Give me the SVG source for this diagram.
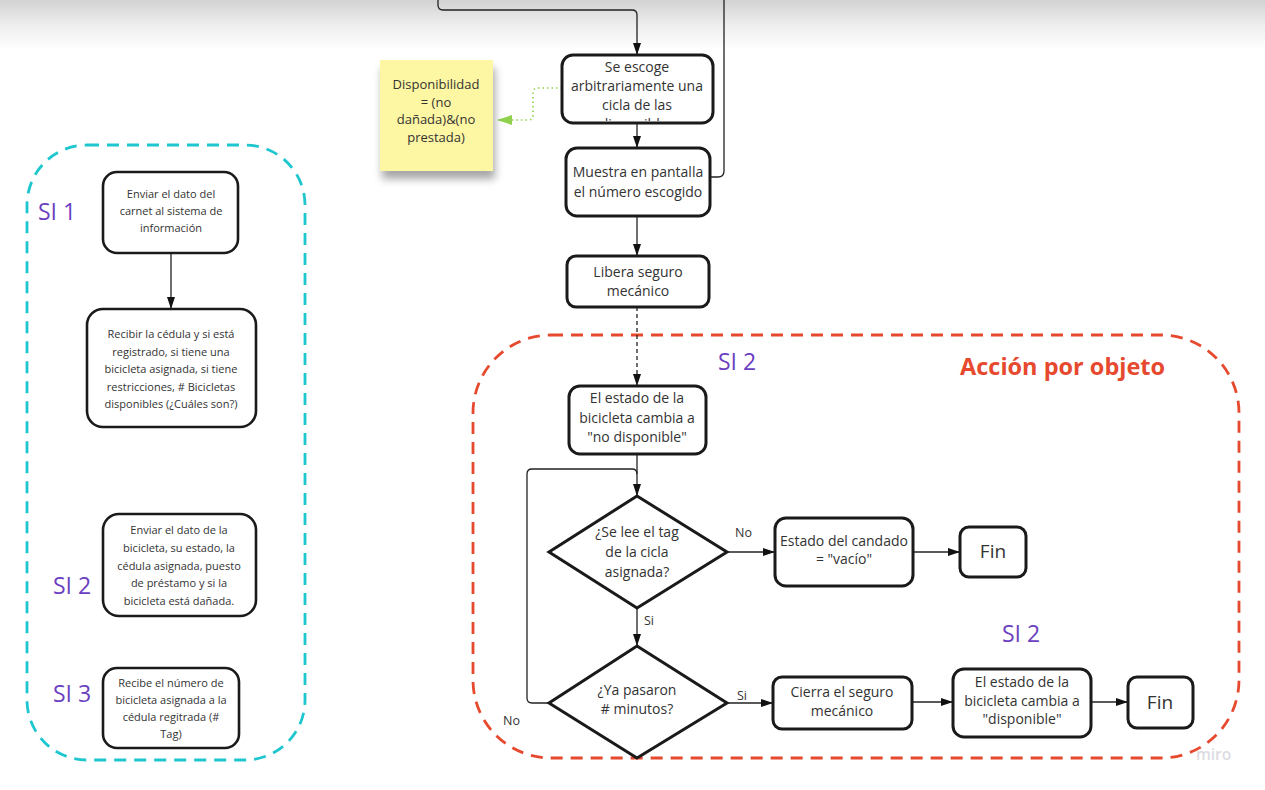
<svg xmlns="http://www.w3.org/2000/svg" width="1265" height="790" viewBox="0 0 1265 790">
<defs>
<linearGradient id="topShade" x1="0" y1="0" x2="0" y2="1">
<stop offset="0" stop-color="#d2d2d2"/>
<stop offset="0.5" stop-color="#eeeeee"/>
<stop offset="1" stop-color="#ffffff"/>
</linearGradient>
<marker id="arr" viewBox="0 0 12 8" refX="12" refY="4" markerWidth="12" markerHeight="8" markerUnits="userSpaceOnUse" orient="auto">
<path d="M0,0 L12,4 L0,8 z" fill="#111"/>
</marker>
<marker id="garr" viewBox="0 0 15 10" refX="15" refY="5" markerWidth="15" markerHeight="10" markerUnits="userSpaceOnUse" orient="auto">
<path d="M0,0 L15,5 L0,10 z" fill="#8fd14f"/>
</marker>
<filter id="noteShadow" x="-20%" y="-20%" width="140%" height="150%">
<feGaussianBlur in="SourceAlpha" stdDeviation="4"/>
<feOffset dx="2" dy="8" result="b"/>
<feComponentTransfer><feFuncA type="linear" slope="0.35"/></feComponentTransfer>
<feMerge><feMergeNode/><feMergeNode in="SourceGraphic"/></feMerge>
</filter>
<clipPath id="clip1"><rect x="562" y="55" width="151" height="66"/></clipPath>
</defs>
<style>
.box{fill:#fff;stroke:#1a1a1a;stroke-width:3}
.sbox{fill:#fff;stroke:#1a1a1a;stroke-width:2.6}
.t{font-family:"Open Sans","Liberation Sans",sans-serif;fill:#333;text-anchor:middle}
.m{font-size:14px}
.s{font-size:11px}
.lbl{font-family:"Open Sans","Liberation Sans",sans-serif;font-size:12.5px;fill:#333}
.si{font-family:"Open Sans","Liberation Sans",sans-serif;font-size:23px;fill:#6b3fbf}
.con{fill:none;stroke:#222;stroke-width:1.3}
</style>
<rect x="0" y="0" width="1265" height="790" fill="#fff"/>
<rect x="0" y="0" width="1265" height="50" fill="url(#topShade)"/>

<g id="frame-objeto">
<rect x="473" y="335" width="766" height="423" rx="78" ry="78" fill="none" stroke="#e6492d" stroke-width="2.8" stroke-dasharray="12,8"/>
<text x="960" y="375" font-family="'Open Sans','Liberation Sans',sans-serif" font-size="23.5" font-weight="bold" fill="#e6492d">Acción por objeto</text>
</g>
<g id="frame-si">
<rect x="27" y="145" width="278" height="615" rx="60" ry="60" fill="none" stroke="#1ec6cf" stroke-width="2.8" stroke-dasharray="12,8"/>
</g>

<g id="connectors">
<path class="con" d="M438,0 V5 Q438,10 443,10 H632 Q637,10 637,15 V55" marker-end="url(#arr)"/>
<path class="con" d="M724,0 V171 Q724,177 718,177 H710"/>
<path d="M562,88 H538 Q533,88 533,93 V115 Q533,120 528,120 H497" fill="none" stroke="#8fd14f" stroke-width="1.6" stroke-dasharray="1.5,3" marker-end="url(#garr)"/>
<path class="con" d="M637,123 V148" marker-end="url(#arr)"/>
<path class="con" d="M637,217 V256" marker-end="url(#arr)"/>
<path class="con" d="M637,307 V386" stroke-dasharray="4,3" marker-end="url(#arr)"/>
<path class="con" d="M637,454 V496" marker-end="url(#arr)"/>
<path class="con" d="M549,703 H532 Q527,703 527,698 V474 Q527,469 532,469 H632 Q637,469 637,474"/>
<path class="con" d="M637,608 V646" marker-end="url(#arr)"/>
<path class="con" d="M727,552 H775" marker-end="url(#arr)"/>
<path class="con" d="M913,552 H960" marker-end="url(#arr)"/>
<path class="con" d="M727,703 H773" marker-end="url(#arr)"/>
<path class="con" d="M912,702 H953" marker-end="url(#arr)"/>
<path class="con" d="M1091,702 H1128" marker-end="url(#arr)"/>
<path class="con" d="M171,253 V309" marker-end="url(#arr)"/>
<text class="lbl" x="644" y="625">Si</text>
<text class="lbl" x="735" y="537">No</text>
<text class="lbl" x="737" y="700">Si</text>
<text class="lbl" x="503" y="725">No</text>
</g>

<g id="note">
<rect x="380" y="60" width="113" height="111" fill="#fdf6a3" filter="url(#noteShadow)"/>
<text class="t" font-size="13" x="436" y="89">Disponibilidad</text>
<text class="t" font-size="13" x="436" y="107">= (no</text>
<text class="t" font-size="13" x="436" y="124">dañada)&amp;(no</text>
<text class="t" font-size="13" x="436" y="142">prestada)</text>
</g>

<g id="n1">
<rect class="box" x="562" y="55" width="151" height="68" rx="11"/>
<g clip-path="url(#clip1)">
<text class="t m" x="637" y="72">Se escoge</text>
<text class="t m" x="637" y="91">arbitrariamente una</text>
<text class="t m" x="637" y="110">cicla de las</text>
<text class="t m" x="637" y="129">disponibles</text>
</g>
</g>
<g id="n2">
<rect class="box" x="566" y="148" width="144" height="68" rx="11"/>
<text class="t m" x="638" y="177">Muestra en pantalla</text>
<text class="t m" x="638" y="197">el número escogido</text>
</g>
<g id="n3">
<rect class="box" x="567" y="256" width="142" height="51" rx="9"/>
<text class="t m" x="638" y="277">Libera seguro</text>
<text class="t m" x="638" y="296">mecánico</text>
</g>
<g id="n4">
<rect class="box" x="569" y="386" width="137" height="68" rx="11"/>
<text class="t m" x="637" y="403">El estado de la</text>
<text class="t m" x="637" y="423">bicicleta cambia a</text>
<text class="t m" x="637" y="442">"no disponible"</text>
</g>
<g id="d1">
<polygon class="box" points="637,496 727,552 637,608 549,552"/>
<text class="t m" x="637" y="537">¿Se lee el tag</text>
<text class="t m" x="637" y="557">de la cicla</text>
<text class="t m" x="637" y="577">asignada?</text>
</g>
<g id="d2">
<polygon class="box" points="637,646 727,703 637,758 549,703"/>
<text class="t m" x="637" y="695">¿Ya pasaron</text>
<text class="t m" x="637" y="714">#  minutos?</text>
</g>
<g id="n5">
<rect class="box" x="775" y="518" width="138" height="68" rx="11"/>
<text class="t m" x="844" y="546">Estado del candado</text>
<text class="t m" x="844" y="564">= "vacío"</text>
</g>
<g id="fin1">
<rect class="box" x="960" y="527" width="66" height="50" rx="9"/>
<text class="t" font-size="19" x="993" y="558">Fin</text>
</g>
<g id="n6">
<rect class="box" x="773" y="677" width="139" height="52" rx="9"/>
<text class="t m" x="842" y="697">Cierra el seguro</text>
<text class="t m" x="842" y="716">mecánico</text>
</g>
<g id="n7">
<rect class="box" x="953" y="669" width="138" height="68" rx="11"/>
<text class="t m" x="1022" y="687">El estado de la</text>
<text class="t m" x="1022" y="706">bicicleta cambia a</text>
<text class="t m" x="1022" y="724">"disponible"</text>
</g>
<g id="fin2">
<rect class="box" x="1128" y="677" width="65" height="51" rx="9"/>
<text class="t" font-size="19" x="1160" y="709">Fin</text>
</g>

<g id="labels">
<text class="si" x="718" y="370">SI 2</text>
<text class="si" x="1002" y="642">SI 2</text>
<text class="si" x="38" y="220">SI 1</text>
<text class="si" x="53" y="594">SI 2</text>
<text class="si" x="53" y="702">SI 3</text>
</g>

<g id="a1">
<rect class="sbox" x="103" y="172" width="135" height="81" rx="14"/>
<text class="t s" x="171" y="198">Enviar el dato del</text>
<text class="t s" x="171" y="215">carnet al sistema de</text>
<text class="t s" x="171" y="232">información</text>
</g>
<g id="a2">
<rect class="sbox" x="87" y="309" width="169" height="118" rx="16"/>
<text class="t s" x="171" y="338">Recibir la cédula y si está</text>
<text class="t s" x="171" y="356">registrado, si tiene una</text>
<text class="t s" x="171" y="373">bicicleta asignada, si tiene</text>
<text class="t s" x="171" y="391">restricciones, # Bicicletas</text>
<text class="t s" x="171" y="408">disponibles (¿Cuáles son?)</text>
</g>
<g id="a3">
<rect class="sbox" x="103" y="514" width="153" height="102" rx="16"/>
<text class="t s" x="179" y="534">Enviar el dato de la</text>
<text class="t s" x="179" y="552">bicicleta, su estado, la</text>
<text class="t s" x="179" y="570">cédula asignada, puesto</text>
<text class="t s" x="179" y="587">de préstamo y si la</text>
<text class="t s" x="179" y="605">bicicleta está dañada.</text>
</g>
<g id="a4">
<rect class="sbox" x="103" y="668" width="136" height="80" rx="14"/>
<text class="t s" x="171" y="687">Recibe el número de</text>
<text class="t s" x="171" y="704">bicicleta asignada a la</text>
<text class="t s" x="171" y="721">cédula regitrada (#</text>
<text class="t s" x="171" y="738">Tag)</text>
</g>

<text x="1196" y="760" font-family="'Open Sans','Liberation Sans',sans-serif" font-size="15.5" font-weight="600" fill="#dcdce2">miro</text>
</svg>
